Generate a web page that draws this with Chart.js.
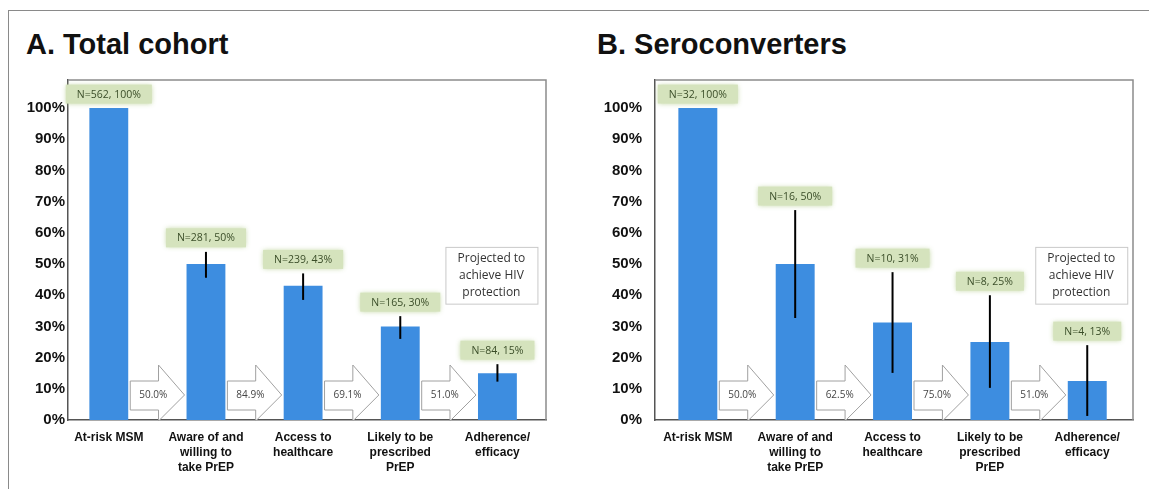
<!DOCTYPE html>
<html>
<head>
<meta charset="utf-8">
<script src="https://cdn.jsdelivr.net/npm/chart.js@4.4.0/dist/chart.umd.min.js"></script>
<style>
  body { margin: 0; background: #fff; }
  #wrap { position: relative; width: 1149px; height: 489px; overflow: hidden; }
  #frameTop { position: absolute; left: 8px; top: 10px; width: 1141px; height: 0; border-top: 1.5px solid #8a8a8a; }
  #frameLeft { position: absolute; left: 8px; top: 10px; width: 0; height: 479px; border-left: 1.5px solid #8a8a8a; }
  .title { position: absolute; font: bold 29px "Liberation Sans", Arial, sans-serif; line-height: 29px; color: #111; white-space: nowrap; }
  canvas { position: absolute; top: 0; }
</style>
</head>
<body>
<div id="wrap">
  <div id="frameTop"></div>
  <div id="frameLeft"></div>
  <div class="title" style="left:26px; top:30px;">A. Total cohort</div>
  <div class="title" style="left:597px; top:30px;">B. Seroconverters</div>
  <canvas id="cohortChart" width="575" height="489" style="left:0px;"></canvas>
  <canvas id="seroChart" width="574" height="489" style="left:575px;"></canvas>
</div>
<script>
// categories (x axis)
const categories = [
  ['At-risk MSM'],
  ['Aware of and', 'willing to', 'take PrEP'],
  ['Access to', 'healthcare'],
  ['Likely to be', 'prescribed', 'PrEP'],
  ['Adherence/', 'efficacy']
];
const yTickValues = [0, 10, 20, 30, 40, 50, 60, 70, 80, 90, 100];

// A. Total cohort
const cohortPct = [100, 50, 43, 30, 15];
const cohortLow = [null, 45.6, 38.5, 26, 12.3];
const cohortHigh = [null, 53.9, 47, 33.3, 17.9];
const cohortLabels = ['N=562, 100%', 'N=281, 50%', 'N=239, 43%', 'N=165, 30%', 'N=84, 15%'];
const cohortSteps = ['50.0%', '84.9%', '69.1%', '51.0%'];

// B. Seroconverters
const seroPct = [100, 50, 31.25, 25, 12.5];
const seroLow = [null, 32.7, 15.1, 10.3, 1.3];
const seroHigh = [null, 67.3, 47.4, 40, 24];
const seroLabels = ['N=32, 100%', 'N=16, 50%', 'N=10, 31%', 'N=8, 25%', 'N=4, 13%'];
const seroSteps = ['50.0%', '62.5%', '75.0%', '51.0%'];

const projectedText = ['Projected to', 'achieve HIV', 'protection'];

const BAR_BLUE = '#3d8de0';
const SMALL_FONT = '"Open Sans", "DejaVu Sans", sans-serif';

function overlayPlugin(values, lows, highs, labels, steps) {
  return {
    id: 'overlay',
    afterDatasetsDraw(chart) {
      const ctx = chart.ctx;
      const area = chart.chartArea;
      const ys = chart.scales.y;
      const bars = chart.getDatasetMeta(0).data;
      ctx.save();

      // plot frame, top and right
      ctx.strokeStyle = '#8c8c8c';
      ctx.lineWidth = 1.5;
      ctx.beginPath();
      ctx.moveTo(area.left, area.top);
      ctx.lineTo(area.right, area.top);
      ctx.lineTo(area.right, area.bottom);
      ctx.stroke();

      // error bars
      ctx.strokeStyle = '#000';
      ctx.lineWidth = 2;
      bars.forEach((b, i) => {
        if (highs[i] == null) return;
        ctx.beginPath();
        ctx.moveTo(b.x, ys.getPixelForValue(lows[i]));
        ctx.lineTo(b.x, ys.getPixelForValue(highs[i]));
        ctx.stroke();
      });

      // green N labels
      ctx.font = '10.5px ' + SMALL_FONT;
      ctx.textAlign = 'center';
      ctx.textBaseline = 'middle';
      bars.forEach((b, i) => {
        const top = highs[i] != null ? highs[i] : values[i];
        const cy = ys.getPixelForValue(top) - 14;
        const w = ctx.measureText(labels[i]).width + 22;
        ctx.save();
        ctx.shadowColor = 'rgba(185,208,150,0.9)';
        ctx.shadowBlur = 5;
        ctx.fillStyle = '#d5e3bd';
        ctx.fillRect(b.x - w / 2, cy - 9.5, w, 19);
        ctx.restore();
        ctx.fillStyle = '#3a4d28';
        ctx.fillText(labels[i], b.x, cy + 0.5);
      });

      // step arrows between bars
      const base = area.bottom;
      steps.forEach((s, i) => {
        const a = bars[i], b = bars[i + 1];
        const x0 = a.x + a.width / 2 + 2;
        const x1 = b.x - b.width / 2 - 2;
        const hx = x1 - 26;
        ctx.beginPath();
        ctx.moveTo(x0, base - 39);
        ctx.lineTo(hx, base - 39);
        ctx.lineTo(hx, base - 55);
        ctx.lineTo(x1, base - 25);
        ctx.lineTo(hx, base + 1);
        ctx.lineTo(hx, base - 10);
        ctx.lineTo(x0, base - 10);
        ctx.closePath();
        ctx.fillStyle = '#fff';
        ctx.fill();
        ctx.strokeStyle = '#a0a0a0';
        ctx.lineWidth = 1;
        ctx.stroke();
        ctx.fillStyle = '#454545';
        ctx.font = '10px ' + SMALL_FONT;
        ctx.fillText(s, x0 + 23, base - 25);
      });

      // projected box over last bar
      const last = bars[bars.length - 1];
      const bx = last.x - 52, bw = 92;
      const by = ys.getPixelForValue(55.5);
      const bh = ys.getPixelForValue(37.3) - by;
      ctx.fillStyle = '#fff';
      ctx.fillRect(bx, by, bw, bh);
      ctx.strokeStyle = '#c9c9c9';
      ctx.lineWidth = 1;
      ctx.strokeRect(bx + 0.5, by + 0.5, bw, bh);
      ctx.fillStyle = '#333';
      ctx.font = '12px ' + SMALL_FONT;
      const mid = by + bh / 2;
      projectedText.forEach((t, k) => {
        ctx.fillText(t, bx + bw / 2, mid + (k - 1) * 17);
      });

      ctx.restore();
    }
  };
}

function makeChart(id, values, lows, highs, labels, steps, yWidth, xMin, xMax, padRight) {
  return new Chart(document.getElementById(id), {
    type: 'bar',
    data: {
      datasets: [{
        data: values.map((v, i) => ({ x: i, y: v })),
        backgroundColor: BAR_BLUE,
        borderWidth: 0,
        barPercentage: 0.4,
        categoryPercentage: 1
      }]
    },
    options: {
      responsive: false,
      animation: false,
      devicePixelRatio: 1,
      layout: { padding: { left: 0, top: 80, right: padRight, bottom: 0 } },
      plugins: { legend: { display: false }, tooltip: { enabled: false } },
      scales: {
        x: {
          type: 'linear',
          offset: false,
          min: xMin,
          max: xMax,
          grid: { display: false, drawTicks: false },
          border: { display: true, color: '#555', width: 1.5 },
          afterBuildTicks: (scale) => { scale.ticks = categories.map((c, i) => ({ value: i })); },
          afterFit: (scale) => { scale.height = 69; },
          ticks: {
            autoSkip: false,
            maxRotation: 0,
            padding: 10,
            color: '#111',
            font: { family: '"Liberation Sans", Arial, sans-serif', size: 12, weight: 'bold', lineHeight: 1.25 },
            callback: (v) => categories[v]
          }
        },
        y: {
          min: 0,
          max: 109,
          grid: { display: false, drawTicks: false },
          border: { display: true, color: '#555', width: 1.5 },
          afterBuildTicks: (scale) => { scale.ticks = yTickValues.map(v => ({ value: v })); },
          afterFit: (scale) => { scale.width = yWidth; },
          ticks: {
            padding: yWidth === 68 ? 3 : 13,
            color: '#111',
            font: { family: '"Liberation Sans", Arial, sans-serif', size: 15, weight: 'bold' },
            callback: (v) => v + '%'
          }
        }
      }
    },
    plugins: [overlayPlugin(values, lows, highs, labels, steps)]
  });
}

makeChart('cohortChart', cohortPct, cohortLow, cohortHigh, cohortLabels, cohortSteps, 68, -0.42, 4.5, 29);
makeChart('seroChart', seroPct, seroLow, seroHigh, seroLabels, seroSteps, 80, -0.44, 4.47, 16);
</script>
</body>
</html>
